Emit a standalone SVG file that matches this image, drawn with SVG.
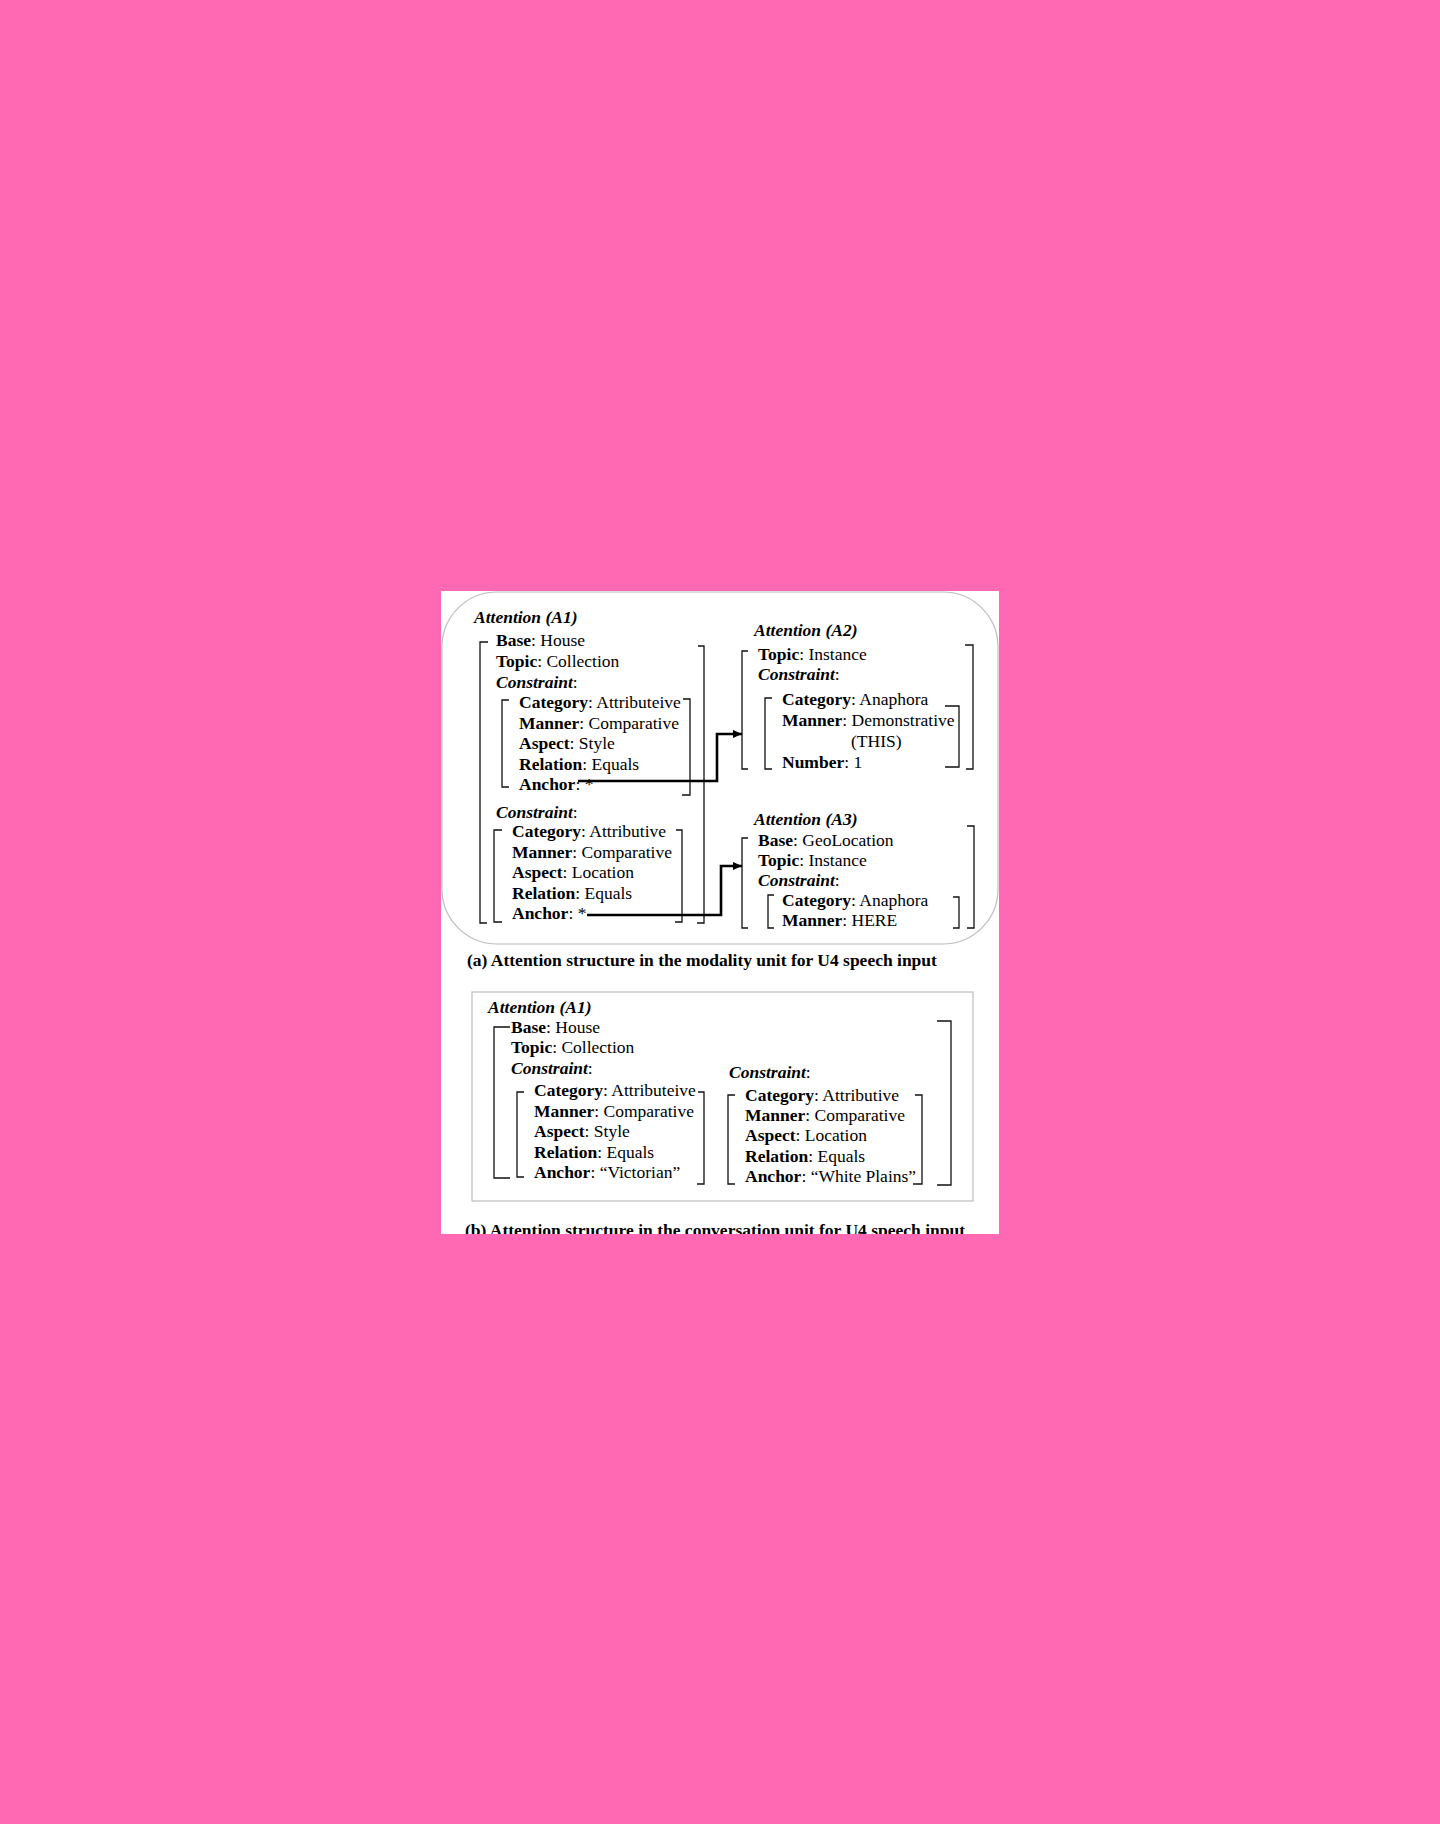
<svg xmlns="http://www.w3.org/2000/svg" width="1440" height="1824" viewBox="0 0 1440 1824">
<defs>
<style>
text{font-family:"Liberation Serif","Times New Roman",serif;font-size:17.5px;fill:#000}
.b{font-weight:bold}
.bi{font-weight:bold;font-style:italic}
.cap{font-size:17.5px;font-weight:bold}
.br{fill:none;stroke:#111;stroke-width:1.3}
.frame{fill:none;stroke:#bdbdbd;stroke-width:1.2}
.arr{fill:none;stroke:#000;stroke-width:2.6;marker-end:url(#ah)}
</style>
<marker id="ah" markerUnits="userSpaceOnUse" markerWidth="10" markerHeight="10" refX="9" refY="4" orient="auto">
<path d="M0,0 L9,4 L0,8 Z" fill="#000"/>
</marker>
</defs>
<rect x="0" y="0" width="1440" height="1824" fill="#FF69B4"/>
<rect x="441" y="591" width="558" height="643" fill="#fff"/>
<rect class="frame" x="442" y="592" width="556" height="352" rx="55" ry="55"/>

<g id="A1">
<text x="474" y="623" class="bi">Attention (A1)</text>
<text x="496" y="646"><tspan class="b">Base</tspan>: House</text>
<text x="496" y="667"><tspan class="b">Topic</tspan>: Collection</text>
<text x="496" y="688"><tspan class="bi">Constraint</tspan>:</text>
<text x="519" y="708"><tspan class="b">Category</tspan>: Attributeive</text>
<text x="519" y="729"><tspan class="b">Manner</tspan>: Comparative</text>
<text x="519" y="749"><tspan class="b">Aspect</tspan>: Style</text>
<text x="519" y="770"><tspan class="b">Relation</tspan>: Equals</text>
<text x="519" y="790"><tspan class="b">Anchor</tspan>: *</text>
<text x="496" y="818"><tspan class="bi">Constraint</tspan>:</text>
<text x="512" y="837"><tspan class="b">Category</tspan>: Attributive</text>
<text x="512" y="858"><tspan class="b">Manner</tspan>: Comparative</text>
<text x="512" y="878"><tspan class="b">Aspect</tspan>: Location</text>
<text x="512" y="899"><tspan class="b">Relation</tspan>: Equals</text>
<text x="512" y="919"><tspan class="b">Anchor</tspan>: *</text>
<path class="br" d="M488,642 H480 V923 H487"/>
<path class="br" d="M698,646 H704 V923 H697"/>
<path class="br" d="M509,700 H502 V787 H509"/>
<path class="br" d="M683,699 H690 V795 H682"/>
<path class="br" d="M502,830 H494 V922 H502"/>
<path class="br" d="M676,830 H682 V922 H675"/>
</g>

<g id="A2">
<text x="754" y="636" class="bi">Attention (A2)</text>
<text x="758" y="660"><tspan class="b">Topic</tspan>: Instance</text>
<text x="758" y="680"><tspan class="bi">Constraint</tspan>:</text>
<text x="782" y="705"><tspan class="b">Category</tspan>: Anaphora</text>
<text x="782" y="726"><tspan class="b">Manner</tspan>: Demonstrative</text>
<text x="851" y="747">(THIS)</text>
<text x="782" y="768"><tspan class="b">Number</tspan>: 1</text>
<path class="br" d="M748,651 H742 V769 H748"/>
<path class="br" d="M772,698 H765 V769 H772"/>
<path class="br" d="M945,706 H959 V767 H945"/>
<path class="br" d="M965,645 H973 V769 H966"/>
</g>

<g id="A3">
<text x="754" y="825" class="bi">Attention (A3)</text>
<text x="758" y="846"><tspan class="b">Base</tspan>: GeoLocation</text>
<text x="758" y="866"><tspan class="b">Topic</tspan>: Instance</text>
<text x="758" y="886"><tspan class="bi">Constraint</tspan>:</text>
<text x="782" y="906"><tspan class="b">Category</tspan>: Anaphora</text>
<text x="782" y="926"><tspan class="b">Manner</tspan>: HERE</text>
<path class="br" d="M748,838 H742 V928 H748"/>
<path class="br" d="M774,895 H768 V928 H774"/>
<path class="br" d="M953,897 H959 V928 H953"/>
<path class="br" d="M967,826 H974 V928 H967"/>
</g>

<g id="connectors">
<path class="arr" d="M578,781 H717 V734 H742"/>
<path class="arr" d="M587,915 H721 V866 H742"/>
</g>

<text x="467" y="966" class="cap">(a) Attention structure in the modality unit for U4 speech input</text>

<g id="B-A1">
<rect class="frame" x="472" y="992" width="501" height="209"/>
<text x="488" y="1013" class="bi">Attention (A1)</text>
<text x="511" y="1033"><tspan class="b">Base</tspan>: House</text>
<text x="511" y="1053"><tspan class="b">Topic</tspan>: Collection</text>
<text x="511" y="1074"><tspan class="bi">Constraint</tspan>:</text>
<text x="534" y="1096"><tspan class="b">Category</tspan>: Attributeive</text>
<text x="534" y="1117"><tspan class="b">Manner</tspan>: Comparative</text>
<text x="534" y="1137"><tspan class="b">Aspect</tspan>: Style</text>
<text x="534" y="1158"><tspan class="b">Relation</tspan>: Equals</text>
<text x="534" y="1178"><tspan class="b">Anchor</tspan>: “Victorian”</text>
<path class="br" d="M510,1027 H494 V1178 H510"/>
<path class="br" d="M524,1092 H517 V1177 H524"/>
<path class="br" d="M698,1092 H704 V1184 H697"/>
<text x="729" y="1078"><tspan class="bi">Constraint</tspan>:</text>
<text x="745" y="1101"><tspan class="b">Category</tspan>: Attributive</text>
<text x="745" y="1121"><tspan class="b">Manner</tspan>: Comparative</text>
<text x="745" y="1141"><tspan class="b">Aspect</tspan>: Location</text>
<text x="745" y="1162"><tspan class="b">Relation</tspan>: Equals</text>
<text x="745" y="1182"><tspan class="b">Anchor</tspan>: “White Plains”</text>
<path class="br" d="M735,1095 H728 V1184 H735"/>
<path class="br" d="M915,1095 H922 V1184 H913"/>
<path class="br" d="M937,1021 H951 V1185 H937"/>
</g>

<text x="465" y="1236" class="cap">(b) Attention structure in the conversation unit for U4 speech input</text>
<rect x="0" y="1234" width="1440" height="590" fill="#FF69B4"/>
</svg>
